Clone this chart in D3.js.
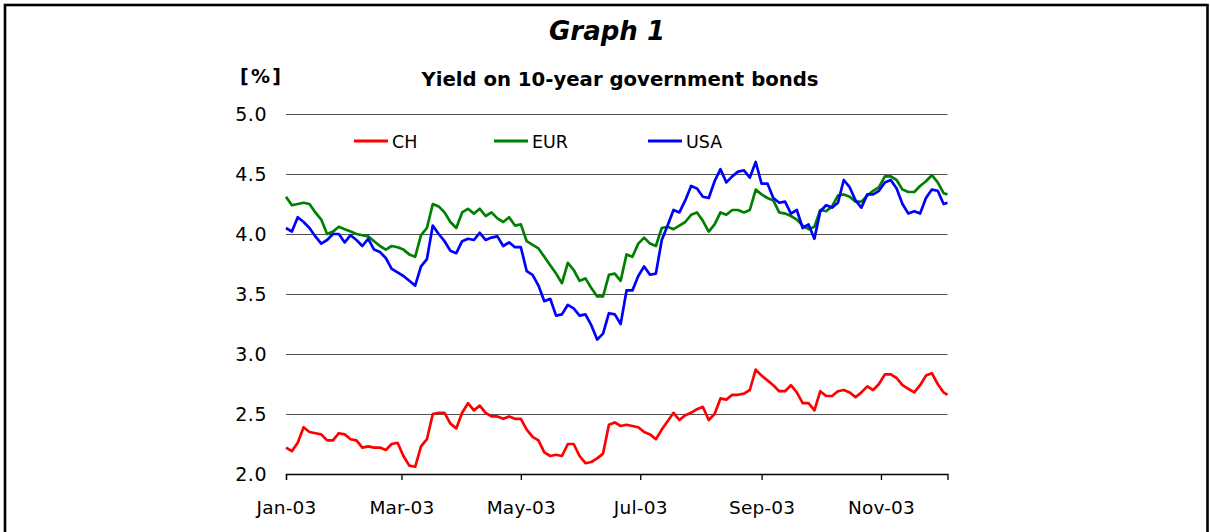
<!DOCTYPE html>
<html><head><meta charset="utf-8">
<script src="https://cdn.jsdelivr.net/npm/d3@7"></script>
<style>
html,body{margin:0;padding:0;background:#fff;}
svg{display:block;}
text{font-family:"DejaVu Sans",sans-serif;fill:#000;}
</style></head>
<body>
<svg id="chart" width="1210" height="532"></svg>
<script>
const dates = [
"2003-01-01","2003-01-04","2003-01-07","2003-01-10","2003-01-13","2003-01-16","2003-01-19","2003-01-22","2003-01-25","2003-01-28",
"2003-01-31","2003-02-03","2003-02-06","2003-02-09","2003-02-12","2003-02-15","2003-02-18","2003-02-21","2003-02-24","2003-02-27",
"2003-03-02","2003-03-05","2003-03-08","2003-03-11","2003-03-14","2003-03-17","2003-03-20","2003-03-23","2003-03-26","2003-03-29",
"2003-04-01","2003-04-04","2003-04-07","2003-04-10","2003-04-13","2003-04-16","2003-04-19","2003-04-22","2003-04-25","2003-04-28",
"2003-05-01","2003-05-04","2003-05-07","2003-05-10","2003-05-13","2003-05-16","2003-05-19","2003-05-22","2003-05-25","2003-05-28",
"2003-05-31","2003-06-03","2003-06-06","2003-06-09","2003-06-12","2003-06-15","2003-06-18","2003-06-21","2003-06-24","2003-06-27",
"2003-06-30","2003-07-03","2003-07-06","2003-07-09","2003-07-12","2003-07-15","2003-07-18","2003-07-21","2003-07-24","2003-07-27",
"2003-07-30","2003-08-02","2003-08-05","2003-08-08","2003-08-11","2003-08-14","2003-08-17","2003-08-20","2003-08-23","2003-08-26",
"2003-08-29","2003-09-01","2003-09-04","2003-09-07","2003-09-10","2003-09-13","2003-09-16","2003-09-19","2003-09-22","2003-09-25",
"2003-09-28","2003-10-01","2003-10-04","2003-10-07","2003-10-10","2003-10-13","2003-10-16","2003-10-19","2003-10-22","2003-10-25",
"2003-10-28","2003-10-31","2003-11-03","2003-11-06","2003-11-09","2003-11-12","2003-11-15","2003-11-18","2003-11-21","2003-11-24",
"2003-11-27","2003-11-30","2003-12-03","2003-12-05"];

const chValues = [
2.22,2.19,2.26,2.39,2.35,2.34,2.33,2.28,2.28,2.34,
2.33,2.29,2.28,2.22,2.23,2.22,2.22,2.20,2.25,2.26,
2.15,2.07,2.06,2.23,2.29,2.50,2.51,2.51,2.42,2.38,
2.51,2.59,2.53,2.57,2.51,2.48,2.48,2.46,2.48,2.46,
2.46,2.37,2.31,2.28,2.18,2.15,2.16,2.15,2.25,2.25,
2.15,2.09,2.10,2.13,2.17,2.41,2.43,2.40,2.41,2.40,
2.39,2.35,2.33,2.29,2.37,2.44,2.51,2.45,2.49,2.51,
2.54,2.56,2.45,2.50,2.63,2.62,2.66,2.66,2.67,2.70,
2.87,2.82,2.78,2.74,2.69,2.69,2.74,2.68,2.59,2.59,
2.53,2.69,2.65,2.65,2.69,2.70,2.68,2.64,2.68,2.73,
2.70,2.75,2.83,2.83,2.80,2.74,2.71,2.68,2.74,2.82,
2.84,2.75,2.68,2.66];

const eurValues = [
4.31,4.24,4.25,4.26,4.25,4.18,4.12,4.00,4.02,4.06,
4.04,4.02,4.00,3.99,3.98,3.94,3.90,3.87,3.90,3.89,
3.87,3.83,3.81,3.99,4.05,4.25,4.23,4.18,4.10,4.05,
4.18,4.21,4.17,4.21,4.15,4.18,4.13,4.10,4.14,4.07,
4.08,3.94,3.91,3.88,3.81,3.74,3.67,3.59,3.76,3.70,
3.61,3.63,3.55,3.48,3.48,3.66,3.67,3.61,3.83,3.81,
3.92,3.97,3.92,3.90,4.05,4.06,4.04,4.07,4.10,4.16,
4.18,4.11,4.02,4.08,4.18,4.16,4.20,4.20,4.18,4.20,
4.37,4.33,4.30,4.28,4.18,4.17,4.15,4.12,4.07,4.04,
4.06,4.20,4.19,4.23,4.32,4.33,4.31,4.27,4.27,4.32,
4.36,4.39,4.48,4.48,4.45,4.37,4.35,4.35,4.40,4.44,
4.49,4.43,4.34,4.33];

const usaValues = [
4.05,4.02,4.14,4.10,4.05,3.98,3.92,3.95,4.00,4.00,
3.93,3.99,3.95,3.90,3.96,3.87,3.85,3.80,3.71,3.68,
3.65,3.61,3.57,3.73,3.79,4.07,4.00,3.94,3.86,3.84,
3.94,3.96,3.95,4.01,3.95,3.97,3.98,3.90,3.93,3.89,
3.89,3.69,3.66,3.57,3.44,3.46,3.32,3.33,3.41,3.38,
3.32,3.33,3.24,3.12,3.17,3.34,3.33,3.25,3.53,3.53,
3.65,3.73,3.66,3.67,3.95,4.07,4.20,4.18,4.28,4.40,
4.38,4.31,4.30,4.44,4.54,4.43,4.48,4.52,4.53,4.47,
4.60,4.42,4.42,4.30,4.26,4.27,4.17,4.20,4.05,4.08,
3.96,4.19,4.24,4.22,4.26,4.45,4.39,4.28,4.22,4.33,
4.33,4.36,4.43,4.45,4.38,4.25,4.17,4.19,4.17,4.30,
4.37,4.36,4.25,4.26];

const seriesNames = ["CH","EUR","USA"];
const seriesColors = ["#ff0000","#008000","#0000ff"];
const yTicks = [2.0,2.5,3.0,3.5,4.0,4.5,5.0];
const xTickDates = ["2003-01-01","2003-03-01","2003-05-01","2003-07-01","2003-09-01","2003-11-01"];
const titleText = "Graph 1";
const subtitleText = "Yield on 10-year government bonds";
const unitText = "[%]";

const parse = d3.timeParse("%Y-%m-%d");
const svg = d3.select("#chart");
const W = 1210, H = 532;
const m = {left:286, right:W-947.5, top:114, bottom:H-474};
const FONT = '"DejaVu Sans",sans-serif';

// outer frame
svg.append("rect").attr("x",5).attr("y",5).attr("width",1202.5).attr("height",600)
  .attr("fill","none").attr("stroke","#000").attr("stroke-width",2.6);

const x = d3.scaleTime().domain([parse(dates[0]), parse(dates[dates.length-1])]).range([m.left, W-m.right]);
const y = d3.scaleLinear().domain([2,5]).range([H-m.bottom, m.top]);

// gridlines
const grid = svg.append("g").call(d3.axisLeft(y).tickValues(yTicks.filter(v=>v>2)).tickSize(-(W-m.right-m.left)).tickFormat(""))
  .attr("transform",`translate(${m.left},0)`);
grid.select(".domain").remove();
grid.selectAll("line").attr("stroke","#505050").attr("stroke-width",1.2);

// y labels
const yAx = svg.append("g").attr("transform",`translate(${m.left},0)`)
  .call(d3.axisLeft(y).tickValues(yTicks).tickSize(0).tickPadding(19).tickFormat(d3.format(".1f")));
yAx.select(".domain").remove();
yAx.selectAll("text").attr("font-size",19).attr("letter-spacing",0.5).attr("font-family",FONT).attr("fill","#000");

// x axis
const xAx = svg.append("g").attr("transform",`translate(0,${H-m.bottom})`)
  .call(d3.axisBottom(x).tickValues(xTickDates.map(parse)).tickSize(6).tickPadding(21).tickFormat(d3.timeFormat("%b-%y")));
xAx.select(".domain").attr("stroke","#000").attr("stroke-width",1.3);
xAx.selectAll("line").attr("stroke","#000").attr("stroke-width",1.3);
xAx.selectAll("text").attr("font-size",18.5).attr("letter-spacing",0.2).attr("font-family",FONT).attr("fill","#000");

// series
const allValues = [chValues, eurValues, usaValues];
const line = d3.line().x((d,i)=>x(parse(dates[i]))).y(d=>y(d));
allValues.forEach((vals,k)=>{
  svg.append("path").datum(vals).attr("d",line).attr("fill","none")
    .attr("stroke",seriesColors[k]).attr("stroke-width",2.7).attr("stroke-linejoin","round");
});

// legend
const legX = [354, 494, 648];
seriesNames.forEach((n,k)=>{
  svg.append("line").attr("x1",legX[k]).attr("x2",legX[k]+34).attr("y1",141).attr("y2",141)
    .attr("stroke",seriesColors[k]).attr("stroke-width",3);
  svg.append("text").attr("x",legX[k]+38).attr("y",148).attr("font-size",17.5).text(n);
});

// titles
svg.append("text").attr("x",607).attr("y",40).attr("text-anchor","middle")
  .attr("font-size",26).attr("font-weight","bold").attr("font-style","italic").text(titleText);
svg.append("text").attr("x",620).attr("y",86).attr("text-anchor","middle")
  .attr("font-size",19.7).attr("font-weight","bold").text(subtitleText);
svg.append("text").attr("x",240).attr("y",83).attr("font-size",19).attr("font-weight","bold").attr("letter-spacing",2.3).text(unitText);
</script>
</body></html>
